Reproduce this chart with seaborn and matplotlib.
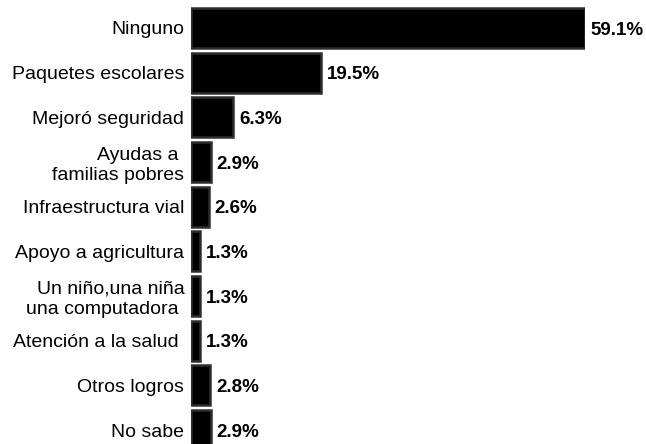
import seaborn as sns
import matplotlib.pyplot as plt
import pandas as pd

categorias = ["Ninguno", "Paquetes escolares", "Mejoró seguridad",
              "Ayudas a \nfamilias pobres", "Infraestructura vial",
              "Apoyo a agricultura", "Un niño,una niña\nuna computadora ",
              "Atención a la salud ", "Otros logros", "No sabe"]
porcentajes = [59.1, 19.5, 6.3, 2.9, 2.6, 1.3, 1.3, 1.3, 2.8, 2.9]
etiquetas = ["59.1%", "19.5%", "6.3%", "2.9%", "2.6%",
             "1.3%", "1.3%", "1.3%", "2.8%", "2.9%"]

df = pd.DataFrame({"logro": categorias, "pct": porcentajes})

sns.set_style("white")
plt.rcParams['font.family'] = ['Liberation Sans', 'DejaVu Sans']
plt.rcParams['text.color'] = 'black'
plt.rcParams['ytick.color'] = 'black'

fig = plt.figure(figsize=(6.46, 4.44), dpi=100)
ax = fig.add_axes([0.296, 0.0, 0.609, 1.0])

sns.barplot(data=df, x="pct", y="logro", color="black", width=0.9,
            edgecolor="#2e2e2e", linewidth=1.8, ax=ax, saturation=1)

for i, (v, t) in enumerate(zip(porcentajes, etiquetas)):
    ax.annotate(t, xy=(v, i), xytext=(4.5, -1.5), textcoords="offset points",
                va="center", ha="left", fontsize=13.5, fontweight="bold")

ax.set_xlim(0, 59.1)
ax.set_ylim(9.313, -0.626)
ax.set_xlabel("")
ax.set_ylabel("")
ax.set_xticks([])
ax.tick_params(axis="y", length=0, pad=5, labelsize=14)
for lbl in ax.get_yticklabels():
    lbl.set_linespacing(1.25)
sns.despine(ax=ax, left=True, bottom=True)

plt.savefig("out.png", dpi=100)
